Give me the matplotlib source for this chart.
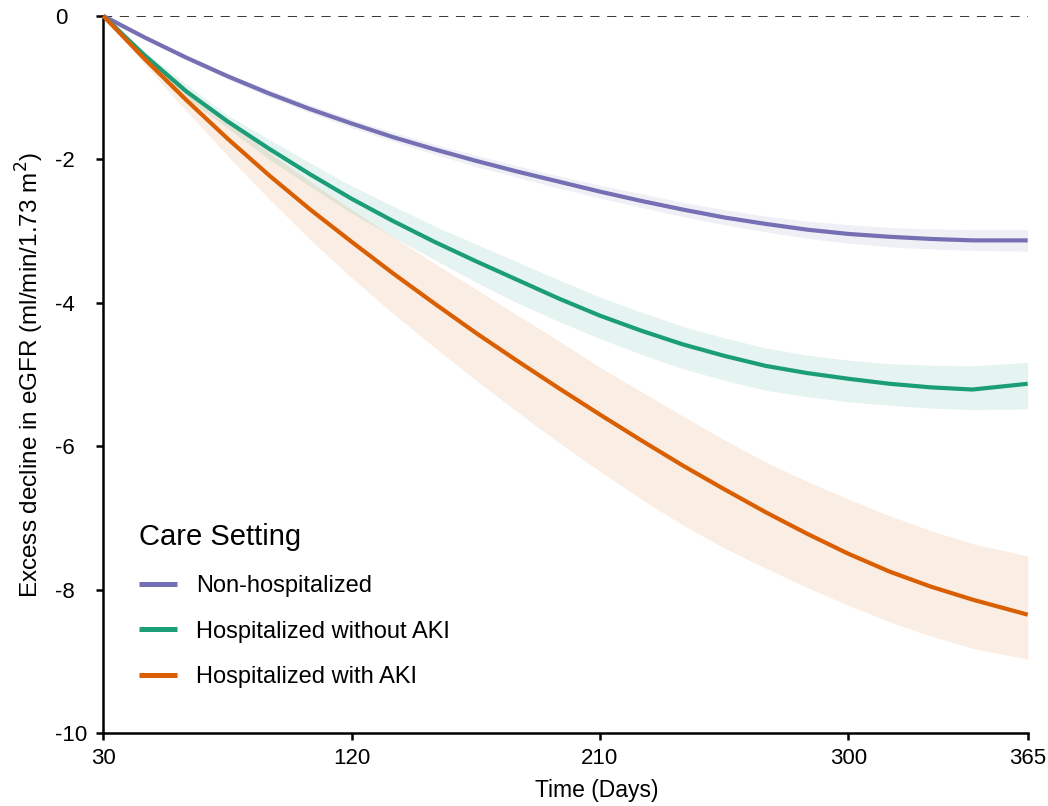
import matplotlib
matplotlib.use("Agg")
import matplotlib.pyplot as plt

plt.rcParams['font.family'] = ['Liberation Sans', 'DejaVu Sans']

# Time since infection (days)
days = [30, 45, 60, 75, 90, 105, 120, 135, 150, 165, 180, 195, 210, 225,
        240, 255, 270, 285, 300, 315, 330, 345, 365]

# Excess eGFR decline estimates with 95% confidence bands
non_hosp = [0, -0.30, -0.58, -0.84, -1.08, -1.30, -1.50, -1.69, -1.86, -2.02, -2.17, -2.31,
            -2.45, -2.58, -2.70, -2.81, -2.90, -2.98, -3.04, -3.08, -3.11, -3.13, -3.13]
non_hosp_hi = [0, -0.29, -0.55, -0.80, -1.03, -1.24, -1.44, -1.62, -1.79, -1.94, -2.09, -2.23,
               -2.36, -2.48, -2.60, -2.70, -2.79, -2.86, -2.91, -2.95, -2.97, -2.98, -2.98]
non_hosp_lo = [0, -0.31, -0.61, -0.88, -1.13, -1.35, -1.56, -1.75, -1.93, -2.10, -2.25, -2.40,
               -2.54, -2.67, -2.80, -2.91, -3.01, -3.10, -3.17, -3.22, -3.25, -3.27, -3.28]

hosp_no_aki = [0, -0.55, -1.05, -1.47, -1.85, -2.21, -2.55, -2.86, -3.15, -3.42, -3.68, -3.94,
               -4.18, -4.39, -4.58, -4.74, -4.88, -4.98, -5.06, -5.13, -5.18, -5.21, -5.13]
hosp_no_aki_hi = [0, -0.50, -0.95, -1.38, -1.72, -2.05, -2.37, -2.65, -2.93, -3.18, -3.43, -3.68,
                  -3.92, -4.13, -4.33, -4.49, -4.63, -4.73, -4.80, -4.85, -4.87, -4.88, -4.83]
hosp_no_aki_lo = [0, -0.60, -1.15, -1.56, -2.00, -2.38, -2.75, -3.08, -3.40, -3.71, -4.00, -4.26,
                  -4.50, -4.72, -4.92, -5.08, -5.22, -5.31, -5.38, -5.43, -5.47, -5.49, -5.48]

hosp_aki = [0, -0.60, -1.17, -1.71, -2.22, -2.70, -3.15, -3.59, -4.01, -4.42, -4.81, -5.19,
            -5.56, -5.92, -6.27, -6.60, -6.92, -7.22, -7.50, -7.75, -7.96, -8.14, -8.35]
hosp_aki_hi = [0, -0.52, -1.00, -1.48, -1.90, -2.31, -2.70, -3.08, -3.45, -3.81, -4.17, -4.53,
               -4.90, -5.24, -5.58, -5.91, -6.22, -6.49, -6.74, -6.97, -7.18, -7.36, -7.53]
hosp_aki_lo = [0, -0.68, -1.32, -1.95, -2.55, -3.12, -3.65, -4.15, -4.62, -5.08, -5.52, -5.95,
               -6.35, -6.74, -7.10, -7.42, -7.70, -7.97, -8.22, -8.45, -8.65, -8.82, -8.97]

labels = ["Non-hospitalized", "Hospitalized without AKI", "Hospitalized with AKI"]
colors = ["#7570b3", "#1b9e77", "#d95f02"]

x_ticks = [30, 120, 210, 300, 365]
y_ticks = [0, -2, -4, -6, -8, -10]

fig = plt.figure(figsize=(10.48, 8.06), dpi=100)
ax = fig.add_axes([0.0986, 0.0906, 0.8820, 0.8896])

ax.axhline(0, color="black", lw=1.1, ls=(0, (6, 5)), zorder=1)

series = [
    (non_hosp, non_hosp_lo, non_hosp_hi),
    (hosp_no_aki, hosp_no_aki_lo, hosp_no_aki_hi),
    (hosp_aki, hosp_aki_lo, hosp_aki_hi),
]
for (mid, lo, hi), col in zip(series, colors):
    ax.fill_between(days, lo, hi, color=col, alpha=0.11, lw=0, zorder=2)
for (mid, lo, hi), lab, col in zip(series, labels, colors):
    ax.plot(days, mid, color=col, lw=3.0, label=lab, zorder=3,
            solid_capstyle="butt", solid_joinstyle="round", clip_on=False)

ax.set_xlim(30, 365)
ax.set_ylim(-10, 0)
ax.set_xticks(x_ticks)
ax.set_yticks(y_ticks)
ax.set_xticklabels([str(t) for t in x_ticks])
ax.set_yticklabels([str(t) for t in y_ticks])

for side in ("top", "right"):
    ax.spines[side].set_visible(False)
for side in ("left", "bottom"):
    ax.spines[side].set_linewidth(1.8)
    ax.spines[side].set_color("black")

ax.tick_params(axis="both", direction="out", length=5, width=1.8,
               labelsize=16, colors="black")
ax.tick_params(axis="x", pad=6)
# y tick labels are left-aligned in a column to the left of the spine
ax.tick_params(axis="y", pad=30)
for lbl in ax.get_yticklabels():
    lbl.set_horizontalalignment("left")

ax.set_xlabel("Time (Days)", fontsize=16.5)
ax.xaxis.set_label_coords(0.534, -0.064)
ax.set_ylabel("Excess decline in eGFR (ml/min/1.73 m$^2$)", fontsize=17.5)
ax.yaxis.set_label_coords(-0.0615, 0.5)

leg = ax.legend(loc="upper left", bbox_to_anchor=(0.016, 0.322),
                frameon=False, title="Care Setting", fontsize=17,
                title_fontsize=21, handlelength=1.6, handletextpad=0.8,
                labelspacing=1.0, alignment="left")
for h in leg.get_lines():
    h.set_linewidth(3.6)

fig.savefig("out.png", dpi=100)
